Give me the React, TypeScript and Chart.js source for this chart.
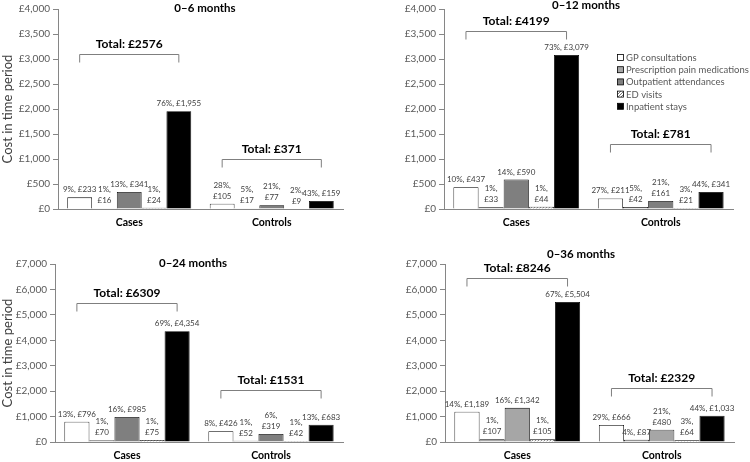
import React, { useEffect, useRef } from "react";
import { Chart, registerables } from "chart.js";

Chart.register(...registerables);

const FONT = "Lato, 'Open Sans', sans-serif";

const categories = ["Cases", "Controls"];
const seriesNames = [
    "GP consultations",
    "Prescription pain medications",
    "Outpatient attendances",
    "ED visits",
    "Inpatient stays",
];

// 0–6 months
const cases6 = [233, 16, 341, 24, 1955];
const controls6 = [105, 17, 77, 9, 159];
const casesLabels6 = ["9%, £233", "1%,\n£16", "13%, £341", "1%,\n£24", "76%, £1,955"];
const controlsLabels6 = ["28%,\n£105", "5%,\n£17", "21%,\n£77", "2%,\n£9", "43%, £159"];
const totals6 = ["Total: £2576", "Total: £371"];

// 0–12 months
const cases12 = [437, 33, 590, 44, 3079];
const controls12 = [211, 42, 161, 21, 341];
const casesLabels12 = ["10%, £437", "1%,\n£33", "14%, £590", "1%,\n£44", "73%, £3,079"];
const controlsLabels12 = ["27%, £211", "5%,\n£42", "21%,\n£161", "3%,\n£21", "44%, £341"];
const totals12 = ["Total: £4199", "Total: £781"];

// 0–24 months
const cases24 = [796, 70, 985, 75, 4354];
const controls24 = [426, 52, 319, 42, 683];
const casesLabels24 = ["13%, £796", "1%,\n£70", "16%, £985", "1%,\n£75", "69%, £4,354"];
const controlsLabels24 = ["8%, £426", "1%,\n£52", "6%,\n£319", "1%,\n£42", "13%, £683"];
const totals24 = ["Total: £6309", "Total: £1531"];

// 0–36 months
const cases36 = [1189, 107, 1342, 105, 5504];
const controls36 = [666, 87, 480, 64, 1033];
const casesLabels36 = ["14%, £1,189", "1%,\n£107", "16%, £1,342", "1%,\n£105", "67%, £5,504"];
const controlsLabels36 = ["29%, £666", "4%, £87", "21%,\n£480", "3%,\n£64", "44%, £1,033"];
const totals36 = ["Total: £8246", "Total: £2329"];

const makeDots = (): CanvasPattern | string => {
    const c = document.createElement("canvas");
    c.width = 3;
    c.height = 3;
    const g = c.getContext("2d");
    if (!g) return "#dddddd";
    g.fillStyle = "#ffffff";
    g.fillRect(0, 0, 3, 3);
    g.fillStyle = "#777777";
    g.fillRect(0, 0, 1, 1);
    g.fillRect(2, 1, 1, 1);
    g.fillRect(1, 2, 1, 1);
    return g.createPattern(c, "repeat") || "#dddddd";
};

interface PanelProps {
    title: string;
    cases: number[];
    controls: number[];
    casesLabels: string[];
    controlsLabels: string[];
    totals: string[];
    bracketLevels: number[];
    yMax: number;
    yStep: number;
    outpatientColour: string;
    showYTitle: boolean;
    showLegend: boolean;
    left: number;
    top: number;
    axisWidth: number;
    padRight: number;
    padTop: number;
    xHeight: number;
    titleX: number;
    titleY: number;
}

const Panel: React.FC<PanelProps> = (p) => {
    const canvasRef = useRef<HTMLCanvasElement | null>(null);
    const chartInstance = useRef<Chart | null>(null);

    useEffect(() => {
        if (!canvasRef.current) return;
        const ctx = canvasRef.current.getContext("2d");
        if (!ctx) return;

        const dots = makeDots();
        const colours: (string | CanvasPattern)[] = ["#ffffff", "#a6a6a6", p.outpatientColour, dots, "#000000"];

        const panelText = {
            id: "panelText",
            afterDatasetsDraw(chart: any) {
                const c = chart.ctx as CanvasRenderingContext2D;
                c.save();

                // data labels above every bar
                c.font = `8px ${FONT}`;
                c.fillStyle = "#404040";
                c.textAlign = "center";
                c.textBaseline = "alphabetic";
                chart.data.datasets.forEach((_: any, i: number) => {
                    const meta = chart.getDatasetMeta(i);
                    meta.data.forEach((bar: any, j: number) => {
                        const text = (j === 0 ? p.casesLabels : p.controlsLabels)[i];
                        const lines = text.split("\n");
                        lines.forEach((line, k) => {
                            c.fillText(line, bar.x, bar.y - 5 - (lines.length - 1 - k) * 11);
                        });
                    });
                });

                // total brackets
                const yScale = chart.scales.y;
                const first = chart.getDatasetMeta(0);
                const last = chart.getDatasetMeta(chart.data.datasets.length - 1);
                categories.forEach((_, j) => {
                    const x1 = first.data[j].x;
                    const x2 = last.data[j].x;
                    const y = Math.round(yScale.getPixelForValue(p.bracketLevels[j])) + 0.5;
                    c.strokeStyle = "#7f7f7f";
                    c.lineWidth = 1;
                    c.beginPath();
                    c.moveTo(x1, y + 8);
                    c.lineTo(x1, y);
                    c.lineTo(x2, y);
                    c.lineTo(x2, y + 8);
                    c.stroke();
                    c.font = `bold 12px ${FONT}`;
                    c.fillStyle = "#000000";
                    c.textBaseline = "middle";
                    c.fillText(p.totals[j], (x1 + x2) / 2, y - 10);
                });

                // panel title
                c.font = `bold 11.5px ${FONT}`;
                c.fillStyle = "#000000";
                c.textBaseline = "middle";
                c.fillText(p.title, p.titleX, p.titleY);

                // legend
                if (p.showLegend) {
                    c.font = `9.5px ${FONT}`;
                    c.textAlign = "left";
                    seriesNames.forEach((name, i) => {
                        const ly = 58 + i * 12.2;
                        c.fillStyle = colours[i] as any;
                        c.fillRect(242.5, ly - 3.5, 6, 6);
                        c.strokeStyle = "#000000";
                        c.lineWidth = 0.8;
                        c.strokeRect(242.5, ly - 3.5, 6, 6);
                        c.fillStyle = "#595959";
                        c.fillText(name, 251, ly);
                    });
                }
                c.restore();
            },
        };

        chartInstance.current = new Chart(ctx, {
            type: "bar",
            data: {
                labels: categories,
                datasets: seriesNames.map((name, i) => ({
                    label: name,
                    data: [p.cases[i], p.controls[i]],
                    backgroundColor: colours[i] as any,
                    borderColor: "#000000",
                    borderWidth: 0.8,
                    barPercentage: 1,
                    categoryPercentage: 0.87,
                })),
            },
            options: {
                responsive: false,
                animation: false,
                layout: { padding: { top: p.padTop, right: p.padRight, left: 0, bottom: 0 } },
                plugins: {
                    legend: { display: false },
                    tooltip: { enabled: false },
                },
                scales: {
                    x: {
                        grid: { drawOnChartArea: false, drawTicks: false },
                        border: { display: true, color: "#868686" },
                        ticks: {
                            padding: 7,
                            color: "#000000",
                            font: { family: FONT, size: 10.5, weight: "bold" },
                        },
                        afterFit: (scale: any) => {
                            scale.height = p.xHeight;
                        },
                    },
                    y: {
                        min: 0,
                        max: p.yMax,
                        ticks: {
                            stepSize: p.yStep,
                            padding: 3,
                            color: "#595959",
                            font: { family: FONT, size: 10 },
                            callback: (v: any) => "£" + Number(v).toLocaleString("en-GB"),
                        },
                        grid: { drawOnChartArea: false, tickLength: 5, color: "#868686" },
                        border: { display: true, color: "#868686" },
                        title: {
                            display: p.showYTitle,
                            text: "Cost in time period",
                            color: "#404040",
                            padding: 0,
                            font: { family: FONT, size: 13 },
                        },
                        afterFit: (scale: any) => {
                            scale.width = p.axisWidth;
                        },
                    },
                },
            },
            plugins: [panelText],
        } as any);

        return () => {
            if (chartInstance.current) {
                chartInstance.current.destroy();
                chartInstance.current = null;
            }
        };
    }, []);

    return (
        <div style={{ position: "absolute", left: p.left, top: p.top, width: 375, height: 231 }}>
            <canvas ref={canvasRef} width={375} height={231}></canvas>
        </div>
    );
};

const App: React.FC = () => {
    return (
        <div style={{ position: "absolute", left: 0, top: 0, width: 750, height: 462, background: "#ffffff" }}>
            <Panel
                title="0–6 months"
                cases={cases6}
                controls={controls6}
                casesLabels={casesLabels6}
                controlsLabels={controlsLabels6}
                totals={totals6}
                bracketLevels={[3110, 1005]}
                yMax={4000}
                yStep={500}
                outpatientColour="#7f7f7f"
                showYTitle={true}
                showLegend={false}
                left={0}
                top={0}
                axisWidth={58}
                padRight={32}
                padTop={6}
                xHeight={22}
                titleX={205}
                titleY={8}
            />
            <Panel
                title="0–12 months"
                cases={cases12}
                controls={controls12}
                casesLabels={casesLabels12}
                controlsLabels={controlsLabels12}
                totals={totals12}
                bracketLevels={[3567, 1300]}
                yMax={4000}
                yStep={500}
                outpatientColour="#7f7f7f"
                showYTitle={false}
                showLegend={true}
                left={375}
                top={0}
                axisWidth={69}
                padRight={17}
                padTop={6}
                xHeight={22}
                titleX={211}
                titleY={5}
            />
            <Panel
                title="0–24 months"
                cases={cases24}
                controls={controls24}
                casesLabels={casesLabels24}
                controlsLabels={controlsLabels24}
                totals={totals24}
                bracketLevels={[5466, 2045]}
                yMax={7000}
                yStep={1000}
                outpatientColour="#7f7f7f"
                showYTitle={true}
                showLegend={false}
                left={0}
                top={231}
                axisWidth={55}
                padRight={32}
                padTop={33}
                xHeight={20}
                titleX={193}
                titleY={32}
            />
            <Panel
                title="0–36 months"
                cases={cases36}
                controls={controls36}
                casesLabels={casesLabels36}
                controlsLabels={controlsLabels36}
                totals={totals36}
                bracketLevels={[6449, 2124]}
                yMax={7000}
                yStep={1000}
                outpatientColour="#a6a6a6"
                showYTitle={false}
                showLegend={false}
                left={375}
                top={231}
                axisWidth={70}
                padRight={16}
                padTop={33}
                xHeight={20}
                titleX={206}
                titleY={23}
            />
        </div>
    );
};

export default App;
